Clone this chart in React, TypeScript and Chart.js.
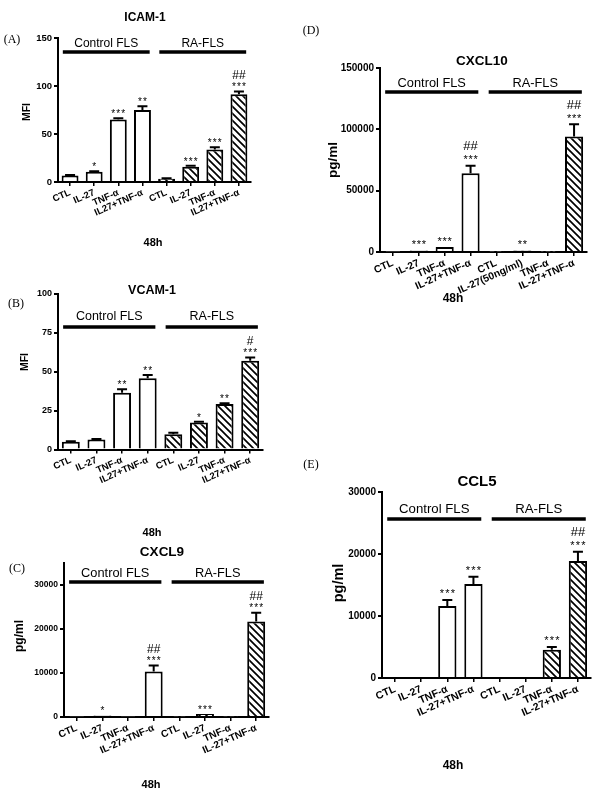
import React, { useEffect, useRef } from 'react';
import { Chart, registerables } from 'chart.js';

Chart.register(...registerables);

const FONT = "'Liberation Sans', Arial, Helvetica, sans-serif";
const SERIF = "'Liberation Serif', 'Times New Roman', serif";

// ---------- data ----------
const groupLabels = ['Control FLS', 'RA-FLS'];
const footLabel = '48h';

const labelsAB = ['CTL', 'IL-27', 'TNF-α', 'IL27+TNF-α', 'CTL', 'IL-27', 'TNF-α', 'IL27+TNF-α'];
const labelsCE = ['CTL', 'IL-27', 'TNF-α', 'IL-27+TNF-α', 'CTL', 'IL-27', 'TNF-α', 'IL-27+TNF-α'];
const labelsD = ['CTL', 'IL-27', 'TNF-α', 'IL-27+TNF-α', 'CTL', 'IL-27(50ng/ml)', 'TNF-α', 'IL-27+TNF-α'];

const icamTicks = [0, 50, 100, 150];
const icamValues = [6.9, 10.7, 65, 75, 3.5, 16, 33.8, 91.5];
const icamErrors = [0.4, 0.4, 1.3, 4, 0.4, 0.8, 2.4, 2.7];
const icamStars = ['', '*', '***', '**', '', '***', '***', '***'];
const icamHashes = ['', '', '', '', '', '', '', '##'];

const vcamTicks = [0, 25, 50, 75, 100];
const vcamValues = [5, 6.5, 36.5, 45.8, 9.8, 17.3, 29.2, 57];
const vcamErrors = [0.3, 0.3, 2.2, 2.1, 1, 0.5, 0.5, 2.2];
const vcamStars = ['', '', '**', '**', '', '*', '**', '***'];
const vcamHashes = ['', '', '', '', '', '', '', '#'];

const cxcl9Ticks = [0, 10000, 20000, 30000];
const cxcl9Values = [100, 360, 100, 10340, 100, 680, 100, 21680];
const cxcl9Errors = [0, 0, 0, 1360, 0, 0, 0, 2040];
const cxcl9Stars = ['', '*', '', '***', '', '***', '', '***'];
const cxcl9Hashes = ['', '', '', '##', '', '', '', '##'];

const cxcl10Ticks = [0, 50000, 100000, 150000];
const cxcl10Values = [300, 1300, 4000, 64100, 300, 1300, 300, 94100];
const cxcl10Errors = [0, 0, 0, 6300, 0, 0, 0, 10100];
const cxcl10Stars = ['', '***', '***', '***', '', '**', '', '***'];
const cxcl10Hashes = ['', '', '', '##', '', '', '', '##'];

const ccl5Ticks = [0, 10000, 20000, 30000];
const ccl5Values = [0, 0, 11620, 15160, 0, 0, 4550, 18860];
const ccl5Errors = [0, 0, 970, 1170, 0, 0, 430, 1490];
const ccl5Stars = ['', '', '***', '***', '', '', '***', '***'];
const ccl5Hashes = ['', '', '', '', '', '', '', '##'];

// ---------- layout ----------
type PanelCfg = {
  title: string; letter: string; yTitle: string;
  labels: string[]; values: number[]; errors: number[]; stars: string[]; hashes: string[];
  yTicks: number[];
  box: [number, number, number, number];
  plot: [number, number, number, number];
  yMax: number;
  titlePos: [number, number]; titleSize: number;
  letterPos: [number, number];
  yTitlePos: [number, number]; yTitleSize: number;
  footPos: [number, number]; footSize: number;
  groupLineY: number; groupLabelY: number; groupSize: number;
  yTickSize: number; xTickSize: number;
  starGap: number; starSize: number; starSpacing: number;
  hashGap: number; hashSize: number;
};

const panels: PanelCfg[] = [
  {
    title: 'ICAM-1', letter: '(A)', yTitle: 'MFI',
    labels: labelsAB, values: icamValues, errors: icamErrors, stars: icamStars, hashes: icamHashes,
    yTicks: icamTicks,
    box: [0, 0, 300, 265], plot: [58, 38, 251, 182], yMax: 150,
    titlePos: [145, 18], titleSize: 12, letterPos: [12, 40],
    yTitlePos: [27, 112], yTitleSize: 10.5, footPos: [153, 243], footSize: 11,
    groupLineY: 52, groupLabelY: 44, groupSize: 12,
    yTickSize: 9.5, xTickSize: 9.5,
    starGap: 7, starSize: 10, starSpacing: 5, hashGap: 17, hashSize: 12,
  },
  {
    title: 'VCAM-1', letter: '(B)', yTitle: 'MFI',
    labels: labelsAB, values: vcamValues, errors: vcamErrors, stars: vcamStars, hashes: vcamHashes,
    yTicks: vcamTicks,
    box: [0, 265, 300, 280], plot: [58, 294, 263, 449.5], yMax: 100,
    titlePos: [152, 291], titleSize: 12.5, letterPos: [16, 304],
    yTitlePos: [25, 362], yTitleSize: 10.5, footPos: [152, 533], footSize: 11,
    groupLineY: 327, groupLabelY: 317, groupSize: 12.5,
    yTickSize: 9, xTickSize: 9.5,
    starGap: 7, starSize: 10, starSpacing: 5, hashGap: 17, hashSize: 12,
  },
  {
    title: 'CXCL9', letter: '(C)', yTitle: 'pg/ml',
    labels: labelsCE, values: cxcl9Values, errors: cxcl9Errors, stars: cxcl9Stars, hashes: cxcl9Hashes,
    yTicks: cxcl9Ticks,
    box: [0, 530, 300, 265], plot: [64, 563, 269, 717], yMax: 35000,
    titlePos: [162, 552], titleSize: 13.5, letterPos: [17, 569],
    yTitlePos: [20, 636], yTitleSize: 12, footPos: [151, 785], footSize: 11,
    groupLineY: 582, groupLabelY: 573, groupSize: 12.8,
    yTickSize: 8.5, xTickSize: 10,
    starGap: 7, starSize: 10, starSpacing: 5, hashGap: 17, hashSize: 12,
  },
  {
    title: 'CXCL10', letter: '(D)', yTitle: 'pg/ml',
    labels: labelsD, values: cxcl10Values, errors: cxcl10Errors, stars: cxcl10Stars, hashes: cxcl10Hashes,
    yTicks: cxcl10Ticks,
    box: [300, 0, 300, 400], plot: [380, 68, 587, 252], yMax: 150000,
    titlePos: [482, 61], titleSize: 13.5, letterPos: [311, 31],
    yTitlePos: [333, 160], yTitleSize: 13.5, footPos: [453, 299], footSize: 12,
    groupLineY: 92, groupLabelY: 83, groupSize: 12.8,
    yTickSize: 10, xTickSize: 10.3,
    starGap: 8.5, starSize: 11, starSpacing: 5, hashGap: 20, hashSize: 13,
  },
  {
    title: 'CCL5', letter: '(E)', yTitle: 'pg/ml',
    labels: labelsCE, values: ccl5Values, errors: ccl5Errors, stars: ccl5Stars, hashes: ccl5Hashes,
    yTicks: ccl5Ticks,
    box: [300, 400, 300, 395], plot: [382, 492, 591, 678], yMax: 30000,
    titlePos: [477, 482], titleSize: 15, letterPos: [311, 465],
    yTitlePos: [339, 583], yTitleSize: 14.5, footPos: [453, 766], footSize: 12,
    groupLineY: 519, groupLabelY: 509, groupSize: 13.2,
    yTickSize: 10, xTickSize: 10.5,
    starGap: 9, starSize: 11, starSpacing: 5.5, hashGap: 20.5, hashSize: 13,
  },
];

function makeHatch(): CanvasPattern | string {
  const c = document.createElement('canvas');
  c.width = 7;
  c.height = 7;
  const g = c.getContext('2d');
  if (!g) return '#fff';
  g.fillStyle = '#fff';
  g.fillRect(0, 0, 7, 7);
  g.strokeStyle = '#000';
  g.lineWidth = 1.7;
  g.beginPath();
  for (const o of [-7, 0, 7]) {
    g.moveTo(o - 1, -1);
    g.lineTo(o + 8, 8);
  }
  g.stroke();
  return g.createPattern(c, 'repeat') || '#fff';
}

function buildChart(canvas: HTMLCanvasElement, p: PanelCfg): Chart {
  const [bx, by, bw, bh] = p.box;
  const [L, T, R, B] = p.plot;
  const left = L - bx;
  const top = T - by;
  const right = R - bx;
  const bottom = B - by;
  const px = (x: number) => x - bx;
  const py = (y: number) => y - by;
  const hatch = makeHatch();
  const fills = p.values.map((_, i) => (i < 4 ? '#ffffff' : hatch));

  const annotations = {
    id: 'panelAnnotations',
    afterDatasetsDraw(chart: any) {
      const ctx = chart.ctx as CanvasRenderingContext2D;
      const xs = chart.scales.x;
      const ys = chart.scales.y;
      ctx.save();
      ctx.strokeStyle = '#000';
      ctx.lineWidth = 2;
      p.values.forEach((v, i) => {
        const e = p.errors[i];
        if (!e) return;
        const x = xs.getPixelForValue(i);
        const y0 = ys.getPixelForValue(v);
        const y1 = ys.getPixelForValue(v + e);
        ctx.beginPath();
        ctx.moveTo(x, y0);
        ctx.lineTo(x, y1);
        ctx.moveTo(x - 5, y1);
        ctx.lineTo(x + 5, y1);
        ctx.stroke();
      });
      ctx.restore();
    },
    afterDraw(chart: any) {
      const ctx = chart.ctx as CanvasRenderingContext2D;
      const xs = chart.scales.x;
      const ys = chart.scales.y;
      ctx.save();
      ctx.fillStyle = '#000';
      ctx.strokeStyle = '#000';
      ctx.textAlign = 'center';
      ctx.textBaseline = 'middle';

      ctx.font = `bold ${p.titleSize}px ${FONT}`;
      ctx.fillText(p.title, px(p.titlePos[0]), py(p.titlePos[1]));

      ctx.font = `12px ${SERIF}`;
      ctx.fillText(p.letter, px(p.letterPos[0]), py(p.letterPos[1]));

      ctx.font = `bold ${p.footSize}px ${FONT}`;
      ctx.fillText(footLabel, px(p.footPos[0]), py(p.footPos[1]));

      ctx.save();
      ctx.translate(px(p.yTitlePos[0]), py(p.yTitlePos[1]));
      ctx.rotate(-Math.PI / 2);
      ctx.font = `bold ${p.yTitleSize}px ${FONT}`;
      ctx.fillText(p.yTitle, 0, 0);
      ctx.restore();

      const cat = xs.getPixelForValue(1) - xs.getPixelForValue(0);
      [[0, 3], [4, 7]].forEach(([a, b], gi) => {
        const x1 = xs.getPixelForValue(a) - 0.3 * cat;
        const x2 = xs.getPixelForValue(b) + 0.3 * cat;
        ctx.lineWidth = 3.5;
        ctx.beginPath();
        ctx.moveTo(x1, py(p.groupLineY));
        ctx.lineTo(x2, py(p.groupLineY));
        ctx.stroke();
        ctx.font = `${p.groupSize}px ${FONT}`;
        ctx.textBaseline = 'middle';
        ctx.fillText(groupLabels[gi], (x1 + x2) / 2, py(p.groupLabelY));
      });

      ctx.textBaseline = 'alphabetic';
      p.values.forEach((v, i) => {
        const x = xs.getPixelForValue(i);
        const yTop = ys.getPixelForValue(v + (p.errors[i] || 0));
        const s = p.stars[i];
        if (s) {
          ctx.font = `${p.starSize}px ${FONT}`;
          const n = s.length;
          for (let k = 0; k < n; k++) {
            ctx.fillText('*', x + (k - (n - 1) / 2) * p.starSpacing, yTop - p.starGap + 0.57 * p.starSize);
          }
        }
        const h = p.hashes[i];
        if (h) {
          ctx.font = `${p.hashSize}px ${FONT}`;
          ctx.fillText(h, x, yTop - p.hashGap + 0.36 * p.hashSize);
        }
      });
      ctx.restore();
    },
  };

  return new Chart(canvas, {
    type: 'bar',
    data: {
      labels: p.labels,
      datasets: [
        {
          data: p.values,
          backgroundColor: fills as any,
          borderColor: '#000',
          borderWidth: 2,
          borderSkipped: 'bottom',
          barPercentage: 0.7,
          categoryPercentage: 1,
        },
      ],
    },
    options: {
      animation: false,
      responsive: false,
      maintainAspectRatio: false,
      devicePixelRatio: 1,
      layout: { padding: { left: 0, top, right: bw - right, bottom: 0 } },
      plugins: {
        legend: { display: false },
        tooltip: { enabled: false },
        title: { display: false },
      },
      scales: {
        x: {
          type: 'category',
          offset: true,
          grid: {
            offset: false,
            drawOnChartArea: false,
            drawTicks: true,
            tickLength: 4,
            color: '#000',
            lineWidth: 1.5,
          },
          border: { color: '#000', width: 2 },
          ticks: {
            autoSkip: false,
            minRotation: 24,
            maxRotation: 24,
            color: '#000',
            padding: 1,
            font: { family: FONT, size: p.xTickSize, weight: 'bold' },
          },
          afterFit: (s: any) => {
            s.height = bh - bottom;
          },
        } as any,
        y: {
          min: 0,
          max: p.yMax,
          grid: {
            drawOnChartArea: false,
            drawTicks: true,
            tickLength: 4,
            color: '#000',
            lineWidth: 2,
          },
          border: { color: '#000', width: 2 },
          ticks: {
            autoSkip: false,
            color: '#000',
            padding: 2,
            font: { family: FONT, size: p.yTickSize, weight: 'bold' },
            callback: (v: any) => String(v),
          },
          afterBuildTicks: (s: any) => {
            s.ticks = p.yTicks.map((v) => ({ value: v }));
          },
          afterFit: (s: any) => {
            s.width = left;
          },
        } as any,
      },
    },
    plugins: [annotations as any],
  });
}

function Panel({ cfg }: { cfg: PanelCfg }) {
  const ref = useRef<HTMLCanvasElement>(null);
  useEffect(() => {
    if (!ref.current) return;
    const chart = buildChart(ref.current, cfg);
    return () => chart.destroy();
  }, [cfg]);
  const [bx, by, bw, bh] = cfg.box;
  return (
    <canvas
      ref={ref}
      width={bw}
      height={bh}
      style={{ position: 'absolute', left: bx, top: by, width: bw, height: bh }}
    />
  );
}

export default function App() {
  return (
    <div style={{ position: 'absolute', left: 0, top: 0, width: 600, height: 795, background: '#fff', overflow: 'hidden' }}>
      {panels.map((p) => (
        <Panel key={p.letter} cfg={p} />
      ))}
    </div>
  );
}
